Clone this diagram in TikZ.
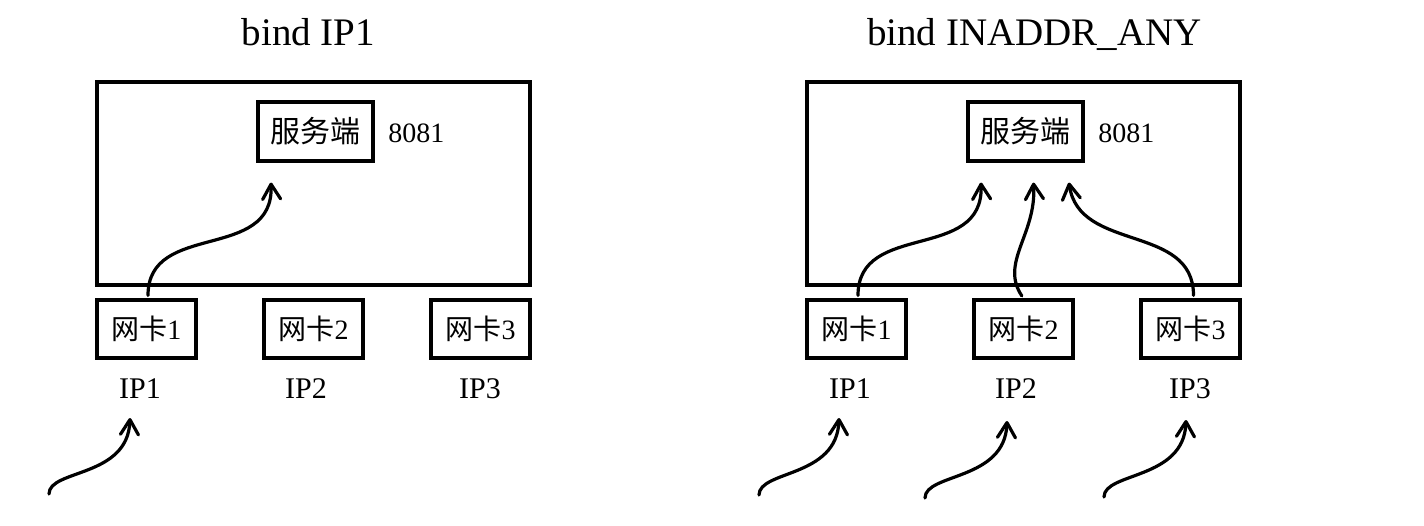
\documentclass[tikz,border=0pt]{standalone}
\usepackage{fontspec}
\setmainfont{Liberation Serif}
\newfontfamily\cjk{Noto Sans CJK SC}
\usetikzlibrary{arrows.meta,calc}
\begin{document}
\begin{tikzpicture}[x=0.5pt,y=-0.5pt,
  box/.style={draw, line width=1.6pt, inner sep=0pt},
  outerbox/.style={box, minimum width=216.5pt, minimum height=101.5pt},
  srvbox/.style={box, minimum width=57.5pt, minimum height=29.5pt, font=\cjk\fontsize{15}{17}\selectfont},
  nicbox/.style={box, minimum width=49.5pt, minimum height=29pt, font=\fontsize{14}{16}\selectfont},
  ttl/.style={font=\fontsize{19.5}{22}\selectfont, anchor=base, inner sep=0pt},
  iplbl/.style={font=\fontsize{15}{17}\selectfont, anchor=base, inner sep=0pt},
  portlbl/.style={font=\fontsize{14}{16}\selectfont, anchor=base west, inner sep=0pt},
  arr/.style={line width=1.6pt, line cap=round, -{Straight Barb[length=7.5pt,width=9pt,round]}, shorten <=1.5pt},
  inarr/.style={line width=1.6pt, line cap=round, -{Straight Barb[length=7.5pt,width=9pt,round]}}
]
\useasboundingbox (0,0) rectangle (1424,525);

% ---------- left panel ----------
\node[ttl] (tL) at (308.5,45) {bind IP1};
\node[outerbox] (outL) at (313.5,183.5) {};
\node[srvbox] (srvL) at (315.5,131.5) {服务端};
\node[portlbl] (pL) at (388,142) {8081};
\node[nicbox] (nL1) at (146.5,329) {{\cjk 网卡}1};
\node[nicbox] (nL2) at (313.5,329) {{\cjk 网卡}2};
\node[nicbox] (nL3) at (480.5,329) {{\cjk 网卡}3};
\node[iplbl] (ipL1) at (140,398) {IP1};
\node[iplbl] (ipL2) at (306,398) {IP2};
\node[iplbl] (ipL3) at (480,398) {IP3};

\draw[arr] ([xshift=0.75pt]nL1.north) .. controls +(0,-78) and +(3,80) .. ($(srvL.south)+(-44.5,20)$);

\coordinate (sL1) at (49,494);
\coordinate (eL1) at (130,418);
\draw[inarr] (sL1) .. controls +(0,-25) and +(-2,60) .. (eL1);

% ---------- right panel ----------
\node[ttl] (tR) at (1034.5,45) {bind INADDR\_ANY};
\node[outerbox] (outR) at (1023.5,183.5) {};
\node[srvbox] (srvR) at (1025.5,131.5) {服务端};
\node[portlbl] (pR) at (1098,142) {8081};
\node[nicbox] (nR1) at (856.5,329) {{\cjk 网卡}1};
\node[nicbox] (nR2) at (1023.5,329) {{\cjk 网卡}2};
\node[nicbox] (nR3) at (1190.5,329) {{\cjk 网卡}3};
\node[iplbl] (ipR1) at (850,398) {IP1};
\node[iplbl] (ipR2) at (1016,398) {IP2};
\node[iplbl] (ipR3) at (1190,398) {IP3};

\draw[arr] ([xshift=0.75pt]nR1.north) .. controls +(0,-78) and +(3,80) .. ($(srvR.south)+(-44.5,20)$);
\draw[arr] (nR2.north) .. controls +(-24,-36) and +(3,52) .. ($(srvR.south)+(8,20)$);
\draw[arr] ([xshift=1.5pt]nR3.north) .. controls +(0,-75) and +(10,70) .. ($(srvR.south)+(43.5,20)$);

\coordinate (sR1) at (759,495);
\coordinate (eR1) at (839,418);
\coordinate (sR2) at (925,498);
\coordinate (eR2) at (1007,421);
\coordinate (sR3) at (1104,497);
\coordinate (eR3) at (1186,420);
\draw[inarr] (sR1) .. controls +(0,-25) and +(-2,60) .. (eR1);
\draw[inarr] (sR2) .. controls +(0,-25) and +(-2,60) .. (eR2);
\draw[inarr] (sR3) .. controls +(0,-25) and +(-2,60) .. (eR3);
\end{tikzpicture}
\end{document}
